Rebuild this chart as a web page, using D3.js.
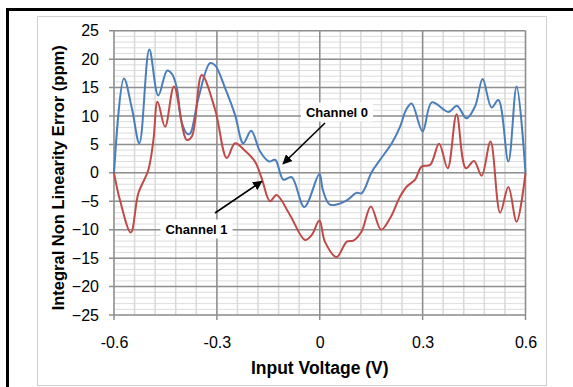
<!DOCTYPE html>
<html>
<head>
<meta charset="utf-8">
<script src="https://cdn.jsdelivr.net/npm/d3@7"></script>
<style>
  html, body { margin: 0; padding: 0; background: #fff; }
  svg { display: block; }
  text { font-family: "Liberation Sans", Arial, sans-serif; }
</style>
</head>
<body>
<svg id="chart" width="573" height="387"></svg>
<script>
// Channel 0 INL curve (input voltage in V, error in ppm)
const ch0Volts = [-0.6, -0.571, -0.548, -0.526, -0.497, -0.471, -0.445, -0.431, -0.417, -0.403, -0.386, -0.378,
  -0.354, -0.32, -0.305, -0.276, -0.247, -0.223, -0.2, -0.174, -0.148, -0.13, -0.106, -0.082, -0.045, -0.001,
  0.009, 0.03, 0.074, 0.108, 0.122, 0.152, 0.176, 0.21, 0.234, 0.252, 0.268, 0.3, 0.327, 0.375, 0.4, 0.428,
  0.453, 0.475, 0.501, 0.521, 0.55, 0.574, 0.6];
const ch0Error = [0, 16.6, 11.4, 5.2, 21.7, 13.6, 18.0, 17.4, 15.0, 9.0, 6.85, 6.9,
  13.1, 19.3, 18.9, 14.9, 10.2, 5.2, 7.4, 3.75, 2.0, 2.3, -1.2, -0.75, -6.0, -0.2,
  -3.0, -5.6, -5.0, -3.5, -3.6, 0.2, 2.3, 5.2, 8.1, 11.1, 12.2, 7.3, 12.4, 10.7, 11.8, 9.6,
  11.7, 16.5, 11.5, 12.8, 2.0, 15.2, 0];

// Channel 1 INL curve
const ch1Volts = [-0.6, -0.583, -0.551, -0.529, -0.5, -0.485, -0.473, -0.451, -0.425, -0.388, -0.373, -0.344,
  -0.305, -0.271, -0.247, -0.218, -0.189, -0.169, -0.145, -0.126, -0.087, -0.043, -0.023, -0.001,
  0.015, 0.049, 0.079, 0.098, 0.122, 0.149, 0.179, 0.205, 0.234, 0.254, 0.278, 0.297, 0.322, 0.348,
  0.373, 0.399, 0.426, 0.45, 0.472, 0.498, 0.526, 0.55, 0.574, 0.6];
const ch1Error = [0, -4.7, -10.5, -3.6, 0.5, 5.8, 12.5, 8.1, 15.2, 5.8, 6.4, 17.2,
  11.1, 2.6, 5.2, 3.9, 2.0, -1.0, -5.0, -3.9, -7.4, -11.8, -10.9, -8.4,
  -12.1, -14.8, -12.1, -11.9, -10.3, -5.9, -10.0, -8.0, -4.2, -2.4, -1.2, 1.1, 1.4, 5.1,
  0.8, 10.3, 0.8, 2.1, -0.5, 5.5, -7.0, -2.5, -8.6, 0];

// Axis ticks
const xTicks = [-0.6, -0.3, 0, 0.3, 0.6];
const xTickLabels = ["-0.6", "-0.3", "0", "0.3", "0.6"];
const yTicks = [25, 20, 15, 10, 5, 0, -5, -10, -15, -20, -25];

// Callout labels
const seriesNames = ["Channel 0", "Channel 1"];

const svg = d3.select("#chart");

// Outer frame (top and left edges) and chart-area border
svg.append("line").attr("x1", 7.5).attr("y1", 9.5).attr("x2", 573).attr("y2", 9.5)
  .attr("stroke", "#000").attr("stroke-width", 3);
svg.append("line").attr("x1", 7.5).attr("y1", 8).attr("x2", 7.5).attr("y2", 387)
  .attr("stroke", "#000").attr("stroke-width", 3);
svg.append("rect").attr("x", 37.5).attr("y", 16.5).attr("width", 509).attr("height", 369)
  .attr("fill", "none").attr("stroke", "#d0d0d0").attr("stroke-width", 1);

const x = d3.scaleLinear().domain([-0.6, 0.6]).range([114, 525.5]);
const y = d3.scaleLinear().domain([-25, 25]).range([315, 30.7]);

// Minor gridlines
const minorX = d3.range(-0.6, 0.6001, 0.06).map(v => +v.toFixed(2));
const minorY = d3.range(-25, 25.001, 1);
const grid = svg.append("g");
grid.selectAll(".my").data(minorY).join("line")
  .attr("x1", x(-0.6)).attr("x2", x(0.6))
  .attr("y1", d => y(d)).attr("y2", d => y(d))
  .attr("stroke", "#dcdcdc").attr("stroke-width", 1);
grid.selectAll(".mx").data(minorX).join("line")
  .attr("x1", d => x(d)).attr("x2", d => x(d))
  .attr("y1", y(25)).attr("y2", y(-25))
  .attr("stroke", "#d9d9d9").attr("stroke-width", 1.5);

// Major gridlines
grid.selectAll(".My").data(yTicks).join("line")
  .attr("x1", x(-0.6) - 5).attr("x2", x(0.6))
  .attr("y1", d => y(d)).attr("y2", d => y(d))
  .attr("stroke", "#8f8f8f").attr("stroke-width", 1.5);
grid.selectAll(".Mx").data(xTicks).join("line")
  .attr("x1", d => x(d)).attr("x2", d => x(d))
  .attr("y1", y(25)).attr("y2", y(-25) + 5)
  .attr("stroke", "#8f8f8f").attr("stroke-width", 1.5);

// Tick labels via axis generators
const yAxis = d3.axisLeft(y).tickValues(yTicks).tickSize(0).tickPadding(15);
const gy = svg.append("g").attr("transform", `translate(${x(-0.6)},0)`).call(yAxis);
gy.select(".domain").remove();
gy.selectAll("text").attr("font-size", 16).attr("fill", "#000")
  .style("font-family", "'Liberation Sans', Arial, sans-serif");

const xAxis = d3.axisBottom(x).tickValues(xTicks).tickSize(0).tickPadding(22)
  .tickFormat((d, i) => xTickLabels[i]);
const gx = svg.append("g").attr("transform", `translate(0,${y(-25)})`).call(xAxis);
gx.select(".domain").remove();
gx.selectAll("text").attr("font-size", 16).attr("fill", "#000")
  .style("font-family", "'Liberation Sans', Arial, sans-serif");

// Axis titles
svg.append("text").attr("x", x(0)).attr("y", 374)
  .attr("text-anchor", "middle").attr("font-size", 17.5).attr("font-weight", "bold")
  .text("Input Voltage (V)");
svg.append("text")
  .attr("transform", `translate(64,${(y(25) + y(-25)) / 2 + 5}) rotate(-90)`)
  .attr("text-anchor", "middle").attr("font-size", 16.5).attr("font-weight", "bold")
  .text("Integral Non Linearity Error (ppm)");

// Curves
const line = d3.line().x(d => x(d[0])).y(d => y(d[1])).curve(d3.curveCatmullRom.alpha(0.5));
const plot = svg.append("g");
plot.append("path").datum(ch0Volts.map((v, i) => [v, ch0Error[i]]))
  .attr("d", line).attr("fill", "none").attr("stroke", "#4a7ebb").attr("stroke-width", 2);
plot.append("path").datum(ch1Volts.map((v, i) => [v, ch1Error[i]]))
  .attr("d", line).attr("fill", "none").attr("stroke", "#be4b48").attr("stroke-width", 2);

// Callouts with arrows pointing at each curve
const defs = svg.append("defs");
defs.append("marker").attr("id", "arrow").attr("viewBox", "0 0 10 10")
  .attr("refX", 9).attr("refY", 5).attr("markerWidth", 6).attr("markerHeight", 6)
  .attr("orient", "auto-start-reverse")
  .append("path").attr("d", "M0,0 L10,5 L0,10 z").attr("fill", "#000");

const callouts = [
  { name: seriesNames[0], tx: 337, ty: 112, from: [325, 123], to: [-0.107, 1.6] },
  { name: seriesNames[1], tx: 196.5, ty: 229, from: [215, 213], to: [-0.169, -1.5] }
];
callouts.forEach(c => {
  const t = svg.append("text").attr("x", c.tx).attr("y", c.ty + 4.5)
    .attr("text-anchor", "middle").attr("font-size", 13).attr("font-weight", "bold")
    .text(c.name);
  const bb = t.node().getBBox();
  svg.insert("rect", () => t.node())
    .attr("x", bb.x - 5).attr("y", bb.y - 2).attr("width", bb.width + 10).attr("height", bb.height + 4)
    .attr("fill", "#fff");
  svg.append("line").attr("x1", c.from[0]).attr("y1", c.from[1])
    .attr("x2", x(c.to[0])).attr("y2", y(c.to[1]))
    .attr("stroke", "#000").attr("stroke-width", 1.6).attr("marker-end", "url(#arrow)");
});
</script>
</body>
</html>
